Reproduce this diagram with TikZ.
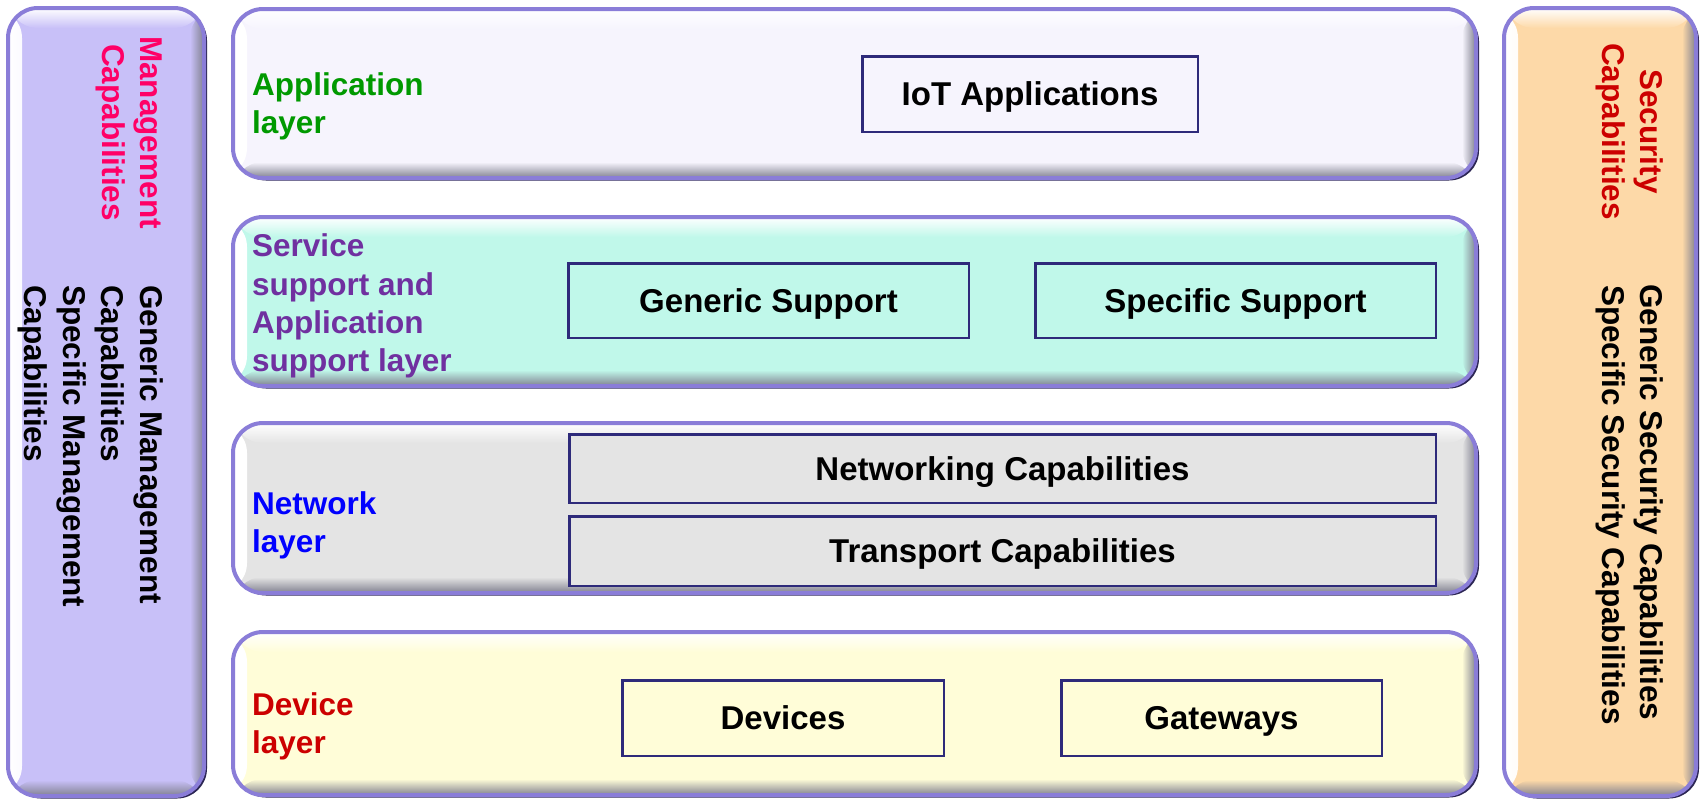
\documentclass[tikz,border=0pt]{standalone}
\usepackage{fontspec}
\setmainfont{Liberation Sans}
\usetikzlibrary{shadows}

% panel and text colours
\definecolor{leftfill}{HTML}{C8C0F8}
\definecolor{rightfill}{HTML}{FDD9A8}
\definecolor{appfill}{HTML}{F6F4FD}
\definecolor{svcfill}{HTML}{C0F8EA}
\definecolor{netfill}{HTML}{E4E4E4}
\definecolor{devfill}{HTML}{FFFDD8}
\definecolor{rim}{HTML}{8A7DD8}
\definecolor{rimdark}{HTML}{2C2654}
\definecolor{bevelgray}{HTML}{80808F}
\definecolor{boxline}{HTML}{2E2A7A}
\definecolor{appgreen}{HTML}{009900}
\definecolor{svcpurple}{HTML}{7030A0}
\definecolor{netblue}{HTML}{0000FF}
\definecolor{devred}{HTML}{CC0000}
\definecolor{mgmtpink}{HTML}{FF0066}

\tikzset{
  % rounded panel with a light upper/left edge and a shaded lower/right edge
  panel/.style={draw=rim, line width=4pt, rounded corners=30pt, fill=#1,
    inner sep=0pt,
    drop shadow={shadow xshift=3pt, shadow yshift=-2.5pt, fill=rimdark, opacity=1},
    path picture={
      \shade[left color=white, right color=#1]
        (path picture bounding box.north west) rectangle ([xshift=14pt]path picture bounding box.south west);
      \shade[top color=white, bottom color=#1]
        (path picture bounding box.north west) rectangle ([yshift=-20pt]path picture bounding box.north east);
      \shade[left color=#1, right color=bevelgray]
        ([xshift=-14pt]path picture bounding box.north east) rectangle (path picture bounding box.south east);
      \shade[top color=#1, bottom color=bevelgray]
        ([yshift=16pt]path picture bounding box.south west) rectangle (path picture bounding box.south east);
    }},
  laylabel/.style={anchor=base west, inner sep=0pt, text=#1,
    font=\bfseries\fontsize{31.5}{38}\selectfont},
  sidetext/.style={rotate=-90, inner sep=0pt, text=#1,
    font=\bfseries\fontsize{31.5}{38}\selectfont},
  capbox/.style={draw=boxline, line width=2.5pt, fill=#1, inner sep=0pt,
    text height=23.5pt, text depth=0pt,
    font=\bfseries\fontsize{33}{40}\selectfont},
}

\begin{document}
\begin{tikzpicture}[x=1pt, y=-1pt]
\useasboundingbox (0,0) rectangle (1702,801);
\fill[white] (0,0) rectangle (1702,801);

% side columns
\node[panel=leftfill, minimum width=196pt, minimum height=788pt] (mgmt) at (106,402) {};
\node[panel=rightfill, minimum width=192pt, minimum height=788pt] (sec) at (1600,402) {};

% the four layers
\node[panel=appfill, minimum width=1243pt, minimum height=169pt] (app) at (854.5,93.5) {};
\node[panel=svcfill, minimum width=1243pt, minimum height=169pt] (svc) at (854.5,301.5) {};
\node[panel=netfill, minimum width=1243pt, minimum height=170pt] (net) at (854.5,508) {};
\node[panel=devfill, minimum width=1243pt, minimum height=163pt] (dev) at (854.5,713.5) {};

% layer titles
\node[laylabel=appgreen] (appl1) at (252,95.5) {Application};
\node[laylabel=appgreen] (appl2) at (252,133.8) {layer};
\node[laylabel=svcpurple] (svcl1) at (252,256.7) {Service};
\node[laylabel=svcpurple] (svcl2) at (252,295) {support and};
\node[laylabel=svcpurple] (svcl3) at (252,333.3) {Application};
\node[laylabel=svcpurple] (svcl4) at (252,371.6) {support layer};
\node[laylabel=netblue] (netl1) at (252,514) {Network};
\node[laylabel=netblue] (netl2) at (252,552.5) {layer};
\node[laylabel=devred] (devl1) at (252,715) {Device};
\node[laylabel=devred] (devl2) at (252,753.3) {layer};

% capability boxes
\node[capbox=appfill, minimum width=335.5pt, minimum height=75.5pt] (iot) at (1030,94) {IoT Applications};
\node[capbox=svcfill, minimum width=400.5pt, minimum height=74.5pt] (gensup) at (768.5,300.5) {Generic Support};
\node[capbox=svcfill, minimum width=400.5pt, minimum height=74.5pt] (specsup) at (1235.5,300.5) {Specific Support};
\node[capbox=netfill, minimum width=866.5pt, minimum height=68.5pt] (netcap) at (1002.5,468.5) {Networking Capabilities};
\node[capbox=netfill, minimum width=866.5pt, minimum height=69.5pt] (transcap) at (1002.5,551) {Transport Capabilities};
\node[capbox=devfill, minimum width=321.5pt, minimum height=75.5pt] (devices) at (783,718) {Devices};
\node[capbox=devfill, minimum width=320.5pt, minimum height=75.5pt] (gateways) at (1221.5,718) {Gateways};

% management column text
\node[sidetext=mgmtpink, anchor=base] (mg1) at (140,132.5) {Management};
\node[sidetext=mgmtpink, anchor=base] (mg2) at (102,132.5) {Capabilities};
\node[sidetext=black, anchor=base west] (mg3) at (140,285) {Generic Management};
\node[sidetext=black, anchor=base west] (mg4) at (101.5,285) {Capabilities};
\node[sidetext=black, anchor=base west] (mg5) at (63,285) {Specific Management};
\node[sidetext=black, anchor=base west] (mg6) at (24.5,285) {Capabilities};

% security column text
\node[sidetext=devred, anchor=base] (sc1) at (1640,131.5) {Security};
\node[sidetext=devred, anchor=base] (sc2) at (1602,131.5) {Capabilities};
\node[sidetext=black, anchor=base west] (sc3) at (1640,284) {Generic Security Capabilities};
\node[sidetext=black, anchor=base west] (sc4) at (1602,285) {Specific Security Capabilities};
\end{tikzpicture}
\end{document}
